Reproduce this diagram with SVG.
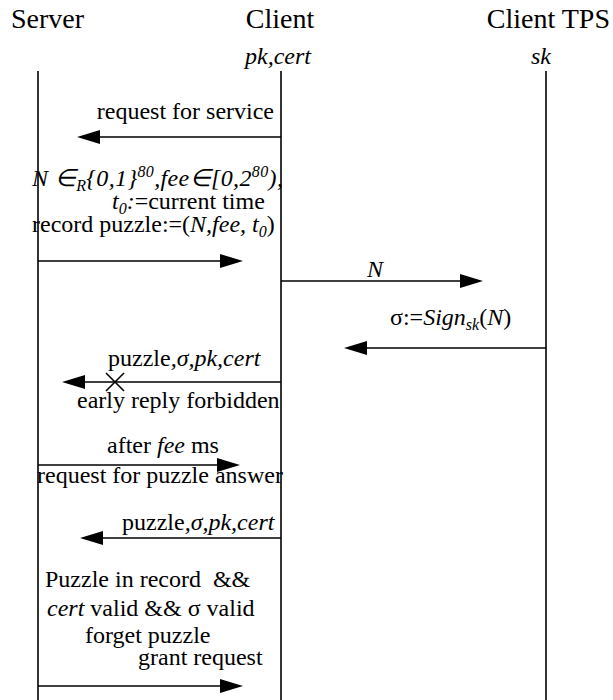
<svg xmlns="http://www.w3.org/2000/svg" width="613" height="700" viewBox="0 0 613 700">
<defs>
<marker id="ah" markerUnits="userSpaceOnUse" markerWidth="24" markerHeight="16" refX="0" refY="7" orient="auto">
<path d="M0,0 L23,7 L0,14 z" fill="#000"/>
</marker>
<style>
.hd{font-family:"Liberation Serif","Times New Roman",serif;font-size:28px;fill:#000}
.t{font-family:"Liberation Serif","Times New Roman",serif;font-size:24px;fill:#000}
.i{font-style:italic}
.s{font-size:16px}
.life{stroke:#000;stroke-width:1.6;fill:none}
.msg{stroke:#000;stroke-width:1.6;fill:none;marker-end:url(#ah)}
</style>
</defs>
<rect width="613" height="700" fill="#fff"/>
<g id="server">
<text class="hd" x="11" y="28">Server</text>
<line class="life" x1="38" y1="71" x2="38" y2="700"/>
</g>
<g id="client">
<text class="hd" x="280" y="28" text-anchor="middle">Client</text>
<text class="t i" x="278" y="64" text-anchor="middle">pk,cert</text>
<line class="life" x1="281" y1="71" x2="281" y2="700"/>
</g>
<g id="client-tps">
<text class="hd" x="610" y="28" text-anchor="end">Client TPS</text>
<text class="t i" x="541" y="64" text-anchor="middle">sk</text>
<line class="life" x1="546" y1="71" x2="546" y2="700"/>
</g>
<g id="server-setup">
<text class="t i" x="32" y="186" textLength="251">N ∈<tspan class="s" dy="5">R</tspan><tspan dy="-5">{0,1}</tspan><tspan class="s" dy="-9">80</tspan><tspan dy="9">,fee∈[0,2</tspan><tspan class="s" dy="-9">80</tspan><tspan dy="9">),</tspan></text>
<text class="t" x="112" y="209"><tspan class="i">t</tspan><tspan class="i s" dy="5">0</tspan><tspan class="i" dy="-5">:</tspan>=current time</text>
<text class="t" x="32" y="232">record puzzle:=(<tspan class="i">N,fee, t</tspan><tspan class="i s" dy="5">0</tspan><tspan dy="-5">)</tspan></text>
</g>
<g id="server-check">
<text class="t" x="45" y="587">Puzzle in record&#160; &amp;&amp;</text>
<text class="t" x="47" y="616"><tspan class="i">cert</tspan> valid &amp;&amp; σ valid</text>
<text class="t" x="85" y="643">forget puzzle</text>
<text class="t" x="138" y="665">grant request</text>
</g>
<g id="connectors">
<text class="t" x="274" y="119" text-anchor="end">request for service</text>
<line class="msg" x1="281" y1="137" x2="100" y2="137"/>
<line class="msg" x1="38" y1="261" x2="220" y2="261"/>
<text class="t i" x="375" y="277" text-anchor="middle">N</text>
<line class="msg" x1="281" y1="281" x2="460" y2="281"/>
<text class="t" x="390" y="325">σ:=<tspan class="i">Sign</tspan><tspan class="i s" dy="5">sk</tspan><tspan dy="-5">(</tspan><tspan class="i">N</tspan>)</text>
<line class="msg" x1="546" y1="348" x2="367" y2="348"/>
<text class="t" x="108" y="366">puzzle<tspan class="i">,σ,pk,cert</tspan></text>
<line class="msg" x1="281" y1="382" x2="85" y2="382"/>
<path d="M106,373 L124,391 M124,373 L106,391" stroke="#000" stroke-width="1.6"/>
<text class="t" x="77" y="408">early reply forbidden</text>
<text class="t" x="107" y="453">after <tspan class="i">fee</tspan> ms</text>
<line class="msg" x1="38" y1="465" x2="217" y2="465"/>
<text class="t" x="37" y="483">request for puzzle answer</text>
<text class="t" x="122" y="530">puzzle<tspan class="i">,σ,pk,cert</tspan></text>
<line class="msg" x1="281" y1="538" x2="103" y2="538"/>
<line class="msg" x1="38" y1="686" x2="220" y2="686"/>
</g>
</svg>
